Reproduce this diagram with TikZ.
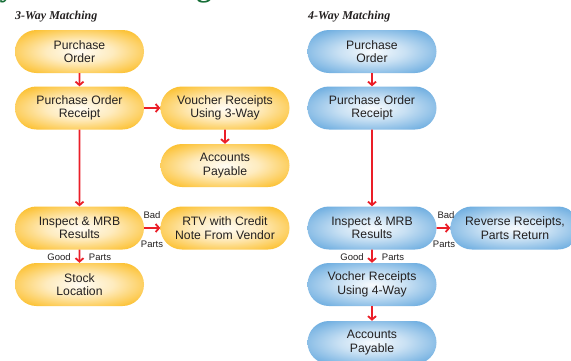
\documentclass[tikz,border=0pt]{standalone}
\usepackage{fontspec}
\setmainfont{Liberation Sans}
\newfontfamily\titlefont{Liberation Serif}
\usetikzlibrary{shapes.misc,arrows.meta}
\definecolor{Ycol}{RGB}{252,190,40}
\definecolor{Bcol}{RGB}{100,168,222}
\definecolor{Rcol}{RGB}{235,30,40}
\definecolor{Gcol}{RGB}{22,110,55}
\definecolor{Tcol}{RGB}{35,32,32}
\pgfdeclareradialshading{yshade}{\pgfpoint{0bp}{0bp}}{color(0bp)=(white!95!Ycol); color(13bp)=(white!70!Ycol); color(32bp)=(Ycol); color(100bp)=(Ycol)}
\pgfdeclareradialshading{bshade}{\pgfpoint{0bp}{0bp}}{color(0bp)=(white!95!Bcol); color(13bp)=(white!65!Bcol); color(33bp)=(Bcol); color(100bp)=(Bcol)}
\tikzset{
  pill/.style={rounded rectangle, minimum width=129pt, minimum height=43pt, inner sep=0pt,
    align=center, text=Tcol, font=\fontsize{12.2}{13.5}\selectfont},
  ypill/.style={pill, shading=yshade},
  bpill/.style={pill, shading=bshade},
  flow/.style={draw=Rcol, line width=1.8pt, -{Straight Barb[length=3.5pt,width=8pt,line width=1.8pt]}},
  lbl/.style={text=Tcol, font=\fontsize{9.5}{11}\selectfont, inner sep=0pt},
  heading/.style={font=\titlefont\bfseries\itshape\fontsize{12}{14}\selectfont, text=Tcol, anchor=west, inner sep=0pt},
  gtitle/.style={font=\titlefont\bfseries\fontsize{30}{32}\selectfont, text=Gcol, anchor=base, inner sep=0pt}
}
\begin{document}
\begin{tikzpicture}[x=1pt,y=-1pt]
\useasboundingbox (0,0) rectangle (571,360);
\clip (0,0) rectangle (571,360);
\fill[white] (0,0) rectangle (571,360);
% cut-off title fragments
\node[gtitle] (ty) at (7,-3.5) {y};
\node[gtitle] (tg) at (204,-4) {g};
% headings
\node[heading] (h3) at (15,16.5) {3-Way Matching};
\node[heading] (h4) at (308,16.5) {4-Way Matching};
% 3-way
\node[ypill] (po) at (79.5,51.5) {Purchase\\Order};
\node[ypill] (por) at (79.5,108) {Purchase Order\\Receipt};
\node[ypill] (vr) at (225,108) {Voucher Receipts\\Using 3-Way};
\node[ypill] (ap) at (225,165.5) {Accounts\\Payable};
\node[ypill] (insp) at (79.5,228) {Inspect \& MRB\\Results};
\node[ypill] (rtv) at (225,228) {RTV with Credit\\Note From Vendor};
\node[ypill] (stock) at (79.5,284.5) {Stock\\Location};
\draw[flow] (po) -- (por);
\draw[flow] (por) -- (vr);
\draw[flow] (vr) -- (ap);
\draw[flow] (por) -- (insp);
\draw[flow] (insp) -- (rtv);
\draw[flow] (insp) -- (stock);
\node[lbl] (bad1) at (152,215) {Bad};
\node[lbl] (parts1) at (152,244) {Parts};
\node[lbl] (good1) at (59,257) {Good};
\node[lbl] (parts1b) at (100,257) {Parts};
% 4-way
\node[bpill] (po2) at (372,51.5) {Purchase\\Order};
\node[bpill] (por2) at (372,108) {Purchase Order\\Receipt};
\node[bpill] (insp2) at (372,228) {Inspect \& MRB\\Results};
\node[bpill] (rev) at (515,228) {Reverse Receipts,\\Parts Return};
\node[bpill] (voch) at (372,284.5) {Vocher Receipts\\Using 4-Way};
\node[bpill] (ap2) at (372,342.5) {Accounts\\Payable};
\draw[flow] (po2) -- (por2);
\draw[flow] (por2) -- (insp2);
\draw[flow] (insp2) -- (rev);
\draw[flow] (insp2) -- (voch);
\draw[flow] (voch) -- (ap2);
\node[lbl] (bad2) at (446,215) {Bad};
\node[lbl] (parts2) at (444,244) {Parts};
\node[lbl] (good2) at (352,257) {Good};
\node[lbl] (parts2b) at (393,257) {Parts};
\end{tikzpicture}
\end{document}
